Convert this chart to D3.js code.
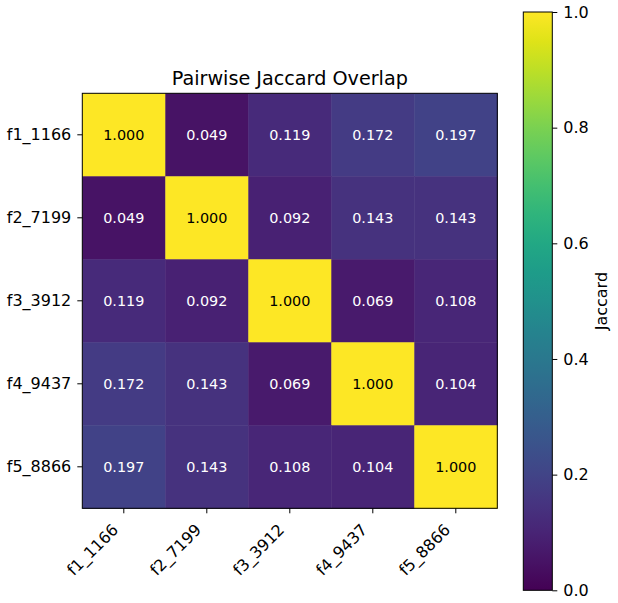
<!DOCTYPE html>
<html><head><meta charset="utf-8">
<script src="https://cdn.jsdelivr.net/npm/d3@7"></script>
<style>body{margin:0;background:#fff}svg{font-family:"DejaVu Sans",sans-serif}</style>
</head><body>
<script>
const labels = ["f1_1166","f2_7199","f3_3912","f4_9437","f5_8866"];
const row1 = [1.000,0.049,0.119,0.172,0.197];
const row2 = [0.049,1.000,0.092,0.143,0.143];
const row3 = [0.119,0.092,1.000,0.069,0.108];
const row4 = [0.172,0.143,0.069,1.000,0.104];
const row5 = [0.197,0.143,0.108,0.104,1.000];
const matrix = [row1,row2,row3,row4,row5];
const cbTicks = [0.0,0.2,0.4,0.6,0.8,1.0];

const W=618,H=603;
const svg=d3.select("body").append("svg").attr("width",W).attr("height",H);
const mLeft=82.3, mTop=93.3, size=415;
const x=d3.scaleBand().domain(labels).range([mLeft,mLeft+size]);
const y=d3.scaleBand().domain(labels).range([mTop,mTop+size]);
const color=d3.scaleSequential(d3.interpolateViridis).domain([0,1]);

const cells=[];
matrix.forEach((r,i)=>r.forEach((v,j)=>cells.push({r:labels[i],c:labels[j],v})));
svg.append("g").selectAll("rect").data(cells).join("rect")
  .attr("x",d=>x(d.c)).attr("y",d=>y(d.r))
  .attr("width",x.bandwidth()+0.5).attr("height",y.bandwidth()+0.5)
  .attr("fill",d=>color(d.v));
svg.append("g").selectAll("text").data(cells).join("text")
  .attr("x",d=>x(d.c)+x.bandwidth()/2).attr("y",d=>y(d.r)+y.bandwidth()/2)
  .attr("text-anchor","middle").attr("dominant-baseline","central")
  .attr("font-size",14.4).attr("fill",d=>d.v>0.5?"#000":"#fff")
  .text(d=>d.v.toFixed(3));
svg.append("rect").attr("x",mLeft).attr("y",mTop).attr("width",size).attr("height",size)
  .attr("fill","none").attr("stroke","#000").attr("stroke-width",1);

// axes
const xa=svg.append("g").attr("transform",`translate(0,${mTop+size})`)
  .call(d3.axisBottom(x).tickSize(5).tickPadding(5));
xa.select(".domain").remove();
xa.selectAll("text").attr("font-size",16).attr("font-family","DejaVu Sans")
  .attr("text-anchor","end").attr("dy",null)
  .attr("transform","translate(-4.5,22.5) rotate(-45)").attr("x",0).attr("y",0);
const ya=svg.append("g").attr("transform",`translate(${mLeft},0)`)
  .call(d3.axisLeft(y).tickSize(5).tickPadding(6));
ya.select(".domain").remove();
ya.selectAll("text").attr("font-size",16).attr("font-family","DejaVu Sans");

svg.append("text").attr("x",mLeft+size/2).attr("y",85).attr("text-anchor","middle")
  .attr("font-size",19.2).text("Pairwise Jaccard Overlap");

// colorbar
const cbx=523.3, cbw=29, cbTop=12, cbBot=590.3;
const defs=svg.append("defs");
const grad=defs.append("linearGradient").attr("id","vir").attr("x1",0).attr("y1",1).attr("x2",0).attr("y2",0);
d3.range(0,1.0001,0.05).forEach(t=>grad.append("stop").attr("offset",t).attr("stop-color",color(t)));
svg.append("rect").attr("x",cbx).attr("y",cbTop).attr("width",cbw).attr("height",cbBot-cbTop)
  .attr("fill","url(#vir)").attr("stroke","#000").attr("stroke-width",1);
const cs=d3.scaleLinear().domain([0,1]).range([cbBot,cbTop]);
const ca=svg.append("g").attr("transform",`translate(${cbx+cbw},0)`)
  .call(d3.axisRight(cs).tickValues(cbTicks).tickFormat(d3.format(".1f")).tickSize(5).tickPadding(6));
ca.select(".domain").remove();
ca.selectAll("text").attr("font-size",16).attr("font-family","DejaVu Sans");
svg.append("text").attr("transform",`translate(607,${(cbTop+cbBot)/2}) rotate(-90)`)
  .attr("text-anchor","middle").attr("font-size",16).text("Jaccard");
</script>
</body></html>
